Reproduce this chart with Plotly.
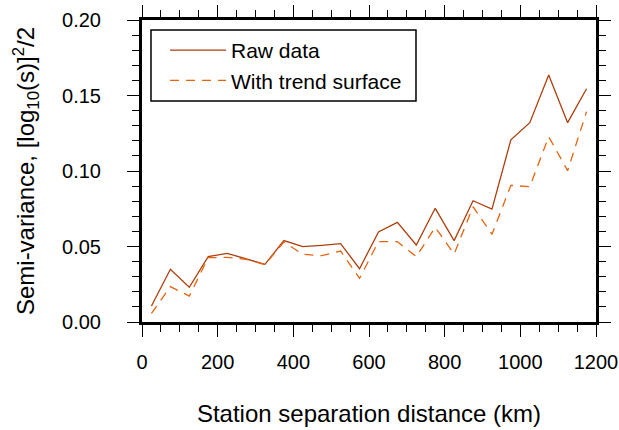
import plotly.graph_objects as go

distance_km = [25, 75, 125, 175, 225, 275, 325, 375, 425, 475, 525, 575,
               625, 675, 725, 775, 825, 875, 925, 975, 1025, 1075, 1125, 1175]
raw_data = [0.0106, 0.0349, 0.0230, 0.0433, 0.0455, 0.0419, 0.0382, 0.0539,
            0.0499, 0.0508, 0.0519, 0.0353, 0.0596, 0.0660, 0.0510, 0.0753,
            0.0539, 0.0803, 0.0748, 0.1207, 0.1320, 0.1636, 0.1320, 0.1545]
with_trend = [0.0057, 0.0234, 0.0172, 0.0426, 0.0428, 0.0415, 0.0380, 0.0530,
              0.0448, 0.0439, 0.0470, 0.0289, 0.0532, 0.0532, 0.0433, 0.0627,
              0.0450, 0.0764, 0.0581, 0.0905, 0.0896, 0.1227, 0.1002, 0.1393]

x_ticks = [0, 200, 400, 600, 800, 1000, 1200]
y_ticks = [0.00, 0.05, 0.10, 0.15, 0.20]
y_tick_labels = ["0.00", "0.05", "0.10", "0.15", "0.20"]

FONT = "Liberation Sans, Arial, sans-serif"

fig = go.Figure()
fig.add_trace(go.Scatter(x=distance_km, y=raw_data, mode="lines",
                         name="Raw data",
                         line=dict(color="#ad3f0e", width=1.3)))
fig.add_trace(go.Scatter(x=distance_km, y=with_trend, mode="lines",
                         name="With trend surface",
                         line=dict(color="#e8640f", width=1.3, dash="9px,7px")))

axis_common = dict(
    showline=True, linecolor="black", linewidth=3, mirror="allticks",
    ticks="outside", ticklen=12, tickwidth=1.3, tickcolor="black",
    showgrid=False, zeroline=False, automargin=False,
    tickfont=dict(family=FONT, size=20, color="black"),
)

fig.update_xaxes(
    range=[0, 1200], tickvals=x_ticks, ticktext=[str(v) for v in x_ticks],
    minor=dict(dtick=50, tick0=0, ticks="outside", ticklen=7, tickwidth=1.3,
               tickcolor="black", showgrid=False),
    ticklabelstandoff=8,
    title=dict(text="Station separation distance (km)",
               font=dict(family=FONT, size=24, color="black"), standoff=34),
    **axis_common)
fig.update_yaxes(
    range=[0, 0.2], tickvals=y_ticks, ticktext=y_tick_labels,
    minor=dict(dtick=0.01, tick0=0, ticks="outside", ticklen=7, tickwidth=1.3,
               tickcolor="black", showgrid=False),
    ticklabelstandoff=22,
    title=dict(text="Semi-variance, [log<sub>10</sub>(s)]<sup>2</sup>/2",
               font=dict(family=FONT, size=24, color="black"), standoff=21),
    **axis_common)

# legend frame (pixel box converted to paper fractions of the plot area)
fig.add_shape(type="rect", xref="paper", yref="paper",
              x0=0.0198, x1=0.6035, y0=0.7318, y1=0.9669,
              line=dict(color="black", width=1.5), fillcolor="rgba(0,0,0,0)")

fig.update_layout(
    width=619, height=430,
    margin=dict(l=142, r=23, t=20, b=108, autoexpand=False),
    paper_bgcolor="white", plot_bgcolor="white",
    showlegend=True,
    legend=dict(x=0.0507, y=0.967, xanchor="left", yanchor="top",
                bgcolor="rgba(0,0,0,0)", borderwidth=0,
                font=dict(family=FONT, size=21, color="black"),
                itemwidth=56),
)

fig.write_html("out.html",
               config={"displayModeBar": False},
               post_script="document.body.style.margin='0';"
                           "document.body.style.overflow='hidden';")
